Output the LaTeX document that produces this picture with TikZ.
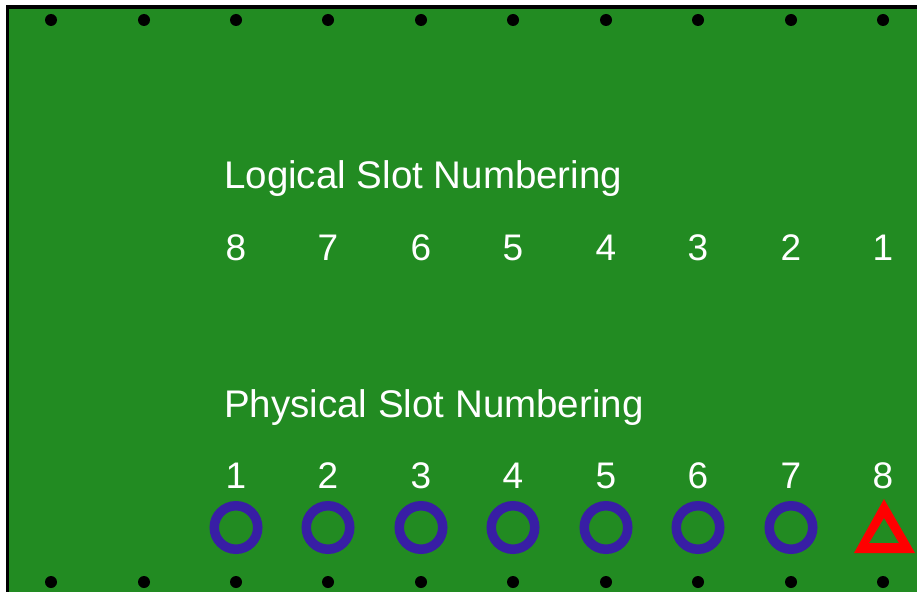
\documentclass[tikz,border=0pt]{standalone}
\usepackage{fontspec}
\setmainfont{Liberation Sans}
\usetikzlibrary{positioning}

\definecolor{boardgreen}{RGB}{34,139,34}
\definecolor{ringblue}{RGB}{56,30,165}

\begin{document}
\begin{tikzpicture}[
        x=1pt, y=-1pt,
        board/.style={
            fill=boardgreen,
            draw=black,
            line width=3.5pt
        },
        screw/.style={
            circle,
            fill=black,
            inner sep=0pt,
            minimum size=12pt
        },
        heading/.style={
            anchor=base west,
            inner sep=0pt,
            text=white,
            font=\fontsize{38.5}{42}\selectfont
        },
        slot_num/.style={
            anchor=base,
            inner sep=0pt,
            text=white,
            font=\fontsize{37}{40}\selectfont
        },
        slot_ring/.style={
            circle,
            draw=ringblue,
            line width=9.5pt,
            inner sep=0pt,
            minimum size=43.5pt
        },
        marker/.style={fill=red, even odd rule}
    ]

    \useasboundingbox (0,0) rectangle (917,591);
    \clip (0,0) rectangle (917,591);

    % Board
    \draw[board] (7.5,7) rectangle (930,600);

    % Mounting screws along top and bottom edges
    \foreach \i [count=\n] in {51,144,236,328,421,513,606,698,791,883} {
        \node[screw] (top\n) at (\i,20) {};
        \node[screw] (bot\n) at (\i,582) {};
    }

    % =================================================
    % LOGICAL NUMBERING
    % =================================================
    \node[heading] (logical) at (224,188) {Logical Slot Numbering};
    \foreach \x/\lbl in {236/8,328/7,421/6,513/5,606/4,698/3,791/2,883/1} {
        \node[slot_num] (log\lbl) at (\x,260) {\lbl};
    }

    % =================================================
    % PHYSICAL NUMBERING
    % =================================================
    \node[heading] (physical) at (224,417) {Physical Slot Numbering};
    \foreach \x [count=\n] in {236,328,421,513,606,698,791,883} {
        \node[slot_num] (phy\n) at (\x,488) {\n};
    }

    % Slot markers
    \foreach \x [count=\n] in {236,328,421,513,606,698,791} {
        \node[slot_ring] (ring\n) at (\x,527.5) {};
    }
    \fill[marker] (884,499) -- (915,553) -- (854,553) -- cycle
                  (884,518) -- (899,543) -- (869,543) -- cycle;

\end{tikzpicture}
\end{document}
